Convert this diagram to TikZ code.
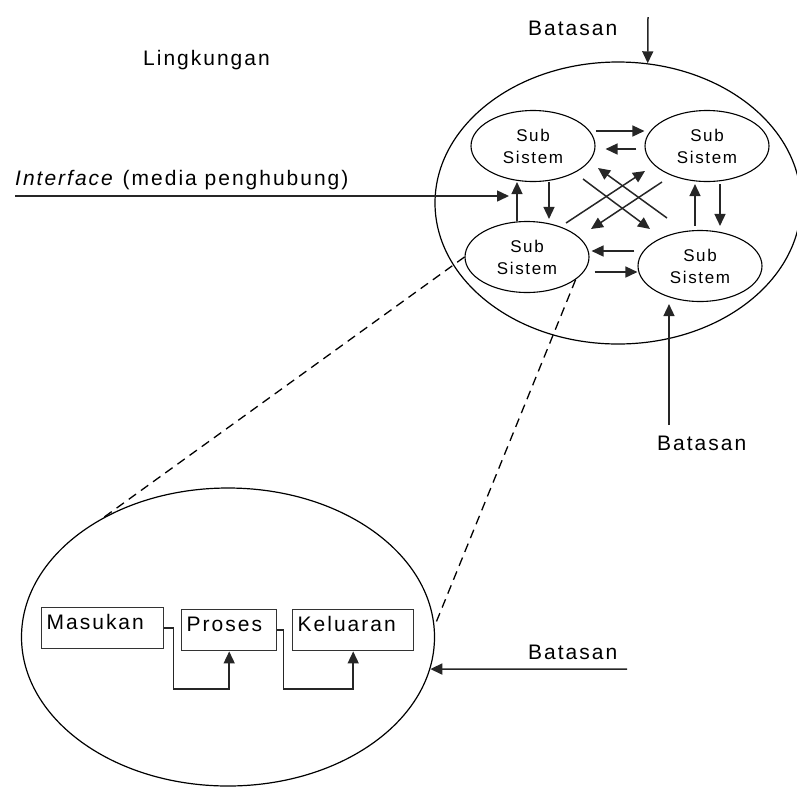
\documentclass[tikz,border=0pt]{standalone}
\usepackage{fontspec}
\setmainfont{Liberation Sans}[LetterSpace=9.5]
\usepackage{tikz}
\usetikzlibrary{arrows.meta,shapes.geometric}

\begin{document}
\begin{tikzpicture}[x=1pt,y=-1pt,
    panah/.style={-{Triangle[length=12pt,width=11pt]},line width=1.5pt,black!85},
    subsis/.style={draw,ellipse,line width=1.1pt,minimum width=124pt,minimum height=71pt,inner sep=1pt,align=center,font=\fontsize{17}{22}\selectfont},
    lingkar/.style={draw,ellipse,line width=1.2pt,inner sep=0pt},
    blok/.style={draw=black!80,rectangle,anchor=north west,align=left,line width=1.4pt,inner xsep=5pt,inner ysep=7pt,text height=15pt,text depth=12pt,minimum height=41pt,font=\fontsize{21}{25}\selectfont},
    teks/.style={anchor=base west,inner sep=0pt,font=\fontsize{21}{25}\selectfont},
    putus/.style={dash pattern=on 9pt off 6pt,line width=1.3pt}]
    \useasboundingbox (0,0) rectangle (797,788);

    \node[lingkar,minimum width=366pt,minimum height=282pt] (sistem) at (618,203) {};
    \node[lingkar,minimum width=413pt,minimum height=298pt] (rinci) at (228,637) {};

    \node[subsis] (ss1) at (533,146) {Sub\\Sistem};
    \node[subsis] (ss2) at (707,146) {Sub\\Sistem};
    \node[subsis] (ss3) at (527,257) {Sub\\Sistem};
    \node[subsis] (ss4) at (700,266) {Sub\\Sistem};

    \node[teks] (lingkungan) at (143,65) {Lingkungan};
    \node[teks] (batas1) at (528,35) {Batasan};
    \node[teks] (batas2) at (657,450) {Batasan};
    \node[teks] (batas3) at (528,659) {Batasan};
    \node[teks] (antarmuka) at (15,185) {\textit{Interface} (media penghubung)};

    \node[blok,text width=112pt] (masukan) at (41,607) {Masukan};
    \node[blok,text width=85pt] (proses) at (181,609) {Proses};
    \node[blok,text width=111pt] (keluaran) at (292,609) {Keluaran};

    \coordinate (antarmukaA) at (15,196);
    \coordinate (antarmukaB) at (509,196);
    \coordinate (batas1A) at (648,17);
    \coordinate (batas2A) at (669,425);
    \coordinate (batas3A) at (627,669);

    \draw[panah] (antarmukaA) -- (antarmukaB);
    \draw[panah] (batas1A) -- (sistem.78);
    \draw[panah] (batas2A) -- ([shift={(-31,2)}]ss4.south);
    \draw[panah] (batas3A) -- (rinci.-9);

    \draw[panah] ([shift={(0,-15)}]ss1.east) -- ([shift={(0,-15)}]ss2.west);
    \draw[panah] ([shift={(-8,3)}]ss2.west) -- ([shift={(10,3)}]ss1.east);
    \draw[panah] ([shift={(16,0)}]ss1.south) -- ([shift={(22,-2)}]ss3.north);
    \draw[panah] ([shift={(-10,0)}]ss3.north) -- ([shift={(-16,0)}]ss1.south);
    \draw[panah] ([shift={(13,2)}]ss2.south) -- ([shift={(20,-4)}]ss4.north);
    \draw[panah] ([shift={(-5,-4)}]ss4.north) -- ([shift={(-12,2)}]ss2.south);
    \draw[panah] ([shift={(-3,-15)}]ss4.west) -- ([shift={(2,-6)}]ss3.east);
    \draw[panah] ([shift={(5,15)}]ss3.east) -- ([shift={(0,6)}]ss4.west);

    \draw[panah] ([shift={(50,33)}]ss1.center) -- ([shift={(-50,-37)}]ss4.center);
    \draw[panah] ([shift={(-33,-48)}]ss4.center) -- ([shift={(65,22)}]ss1.center);
    \draw[panah] ([shift={(39,-34)}]ss3.center) -- ([shift={(-62,25)}]ss2.center);
    \draw[panah] ([shift={(-45,36)}]ss2.center) -- ([shift={(64,-28)}]ss3.center);

    \draw[putus] (ss3.west) -- (rinci.136);
    \draw[putus] (ss3.-25) -- (rinci.3);

    \draw[panah] (masukan.east) -- ++(9,0) -- ++(0,61) -| (proses.south);
    \draw[panah] (proses.east) -- ++(6,0) -- ++(0,59) -| (keluaran.south);
\end{tikzpicture}
\end{document}
